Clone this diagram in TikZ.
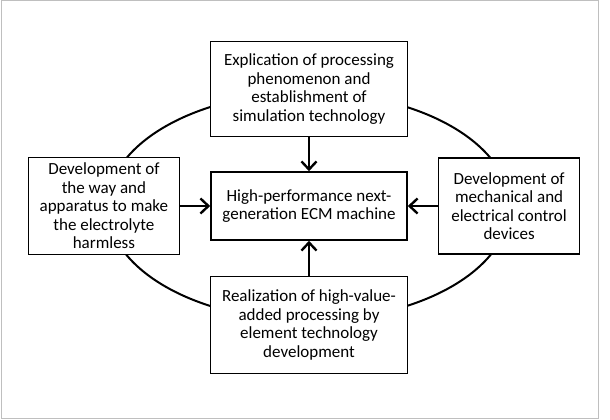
\documentclass[tikz,border=0pt]{standalone}
\usepackage{fontspec}
\setmainfont{Carlito}
\usetikzlibrary{arrows.meta, positioning}

\begin{document}
\begin{tikzpicture}[x=1pt, y=-1pt,
node distance = 34pt and 30pt,
every node/.style = {draw, line width=1.6pt, fill=white,
                     inner xsep=4pt, inner ysep=2pt,
                     font=\fontsize{17}{18.5}\selectfont,
                     align=center},
arr/.style = {-{Straight Barb[length=8pt,width=15pt]}, line width=2.4pt},
                    ]
%---
\useasboundingbox (0,0) rectangle (610,420);
\draw[line width=1pt, black!25] (1,1) rectangle (598,418);
%-------
\coordinate (mid) at (309,206);
\draw[line width=2pt] (308.5,206.5) ellipse [x radius=201, y radius=114];
%
\node (ecm)     [minimum width=196pt, minimum height=68pt] at (mid)
                {High-performance next-\\generation ECM machine};
\node (explic)  [above=of ecm, minimum width=197pt, minimum height=95pt]
                {Explication of processing\\phenomenon and\\establishment of\\simulation technology};
\node (realiz)  [below=35pt of ecm, minimum width=197pt, minimum height=97pt]
                {Realization of high-value-\\added processing by\\element technology\\development};
\node (electro) [left=of ecm, minimum width=151pt, minimum height=97pt]
                {Development of\\the way and\\apparatus to make\\the electrolyte\\harmless};
\node (mechan)  [right=of ecm, minimum width=141pt, minimum height=96pt]
                {Development of\\mechanical and\\electrical control\\devices};
% edges
\draw[arr] (explic)  -- (ecm);
\draw[arr] (realiz)  -- (ecm);
\draw[arr] (electro.east |- ecm) -- (ecm);
\draw[arr] (mechan.west |- ecm)  -- (ecm);
\end{tikzpicture}
\end{document}
